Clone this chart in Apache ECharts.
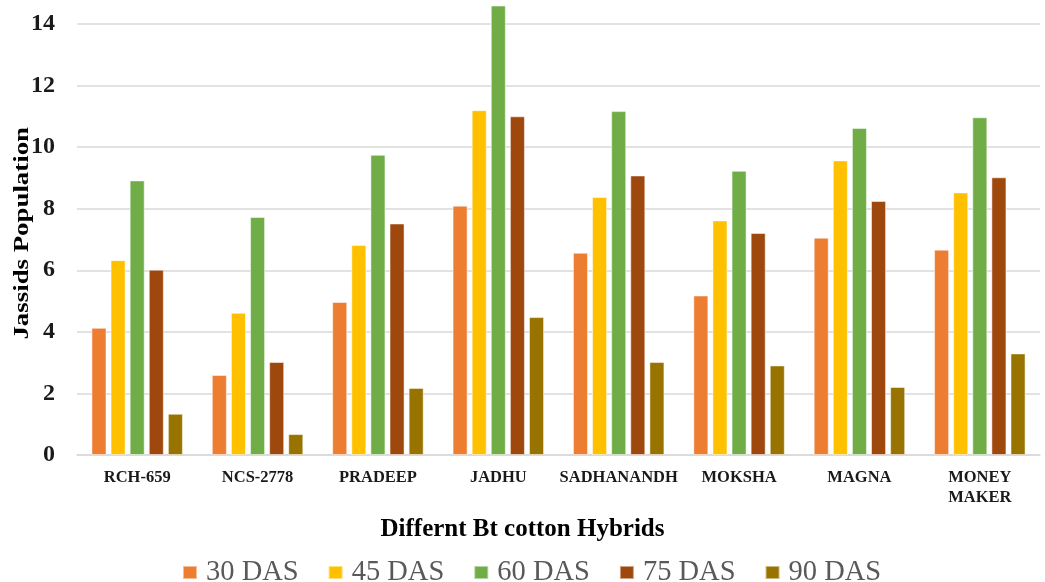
<!DOCTYPE html>
<html><head><meta charset="utf-8">
<script src="https://cdn.jsdelivr.net/npm/echarts@6/dist/echarts.min.js"></script>
<style>html,body{margin:0;padding:0;background:#fff}#c{width:1045px;height:582px}</style>
</head><body><div id="c"></div>
<script>
const categories = ['RCH-659','NCS-2778','PRADEEP','JADHU','SADHANANDH','MOKSHA','MAGNA','MONEY\nMAKER'];
const seriesNames = ['30 DAS','45 DAS','60 DAS','75 DAS','90 DAS'];
const das30 = [4.13, 2.6, 4.97, 8.1, 6.57, 5.18, 7.06, 6.67];
const das45 = [6.33, 4.62, 6.82, 11.2, 8.38, 7.62, 9.57, 8.53];
const das60 = [8.92, 7.73, 9.75, 14.6, 11.17, 9.23, 10.62, 10.97];
const das75 = [6.02, 3.02, 7.52, 11.0, 9.08, 7.21, 8.25, 9.02];
const das90 = [1.34, 0.68, 2.18, 4.48, 3.02, 2.91, 2.21, 3.3];
const colors = ['#ED7D31','#FFC000','#70AD47','#9E480E','#997300'];
const allData = [das30, das45, das60, das75, das90];
const serifName = 'Liberation Serif';
const serif = '"Liberation Serif","DejaVu Serif",serif';

const chart = echarts.init(document.getElementById('c'));
chart.setOption({
  animation: false,
  color: colors,
  grid: {left: 77, right: 5, top: 24, bottom: 127},
  legend: {
    top: 553, left: 177, itemWidth: 14, itemHeight: 13, itemGap: 29,
    icon: 'rect',
    textStyle: {fontFamily: serifName, fontSize: 28.5, color: '#595959', padding: [0,0,0,4]},
    data: seriesNames
  },
  xAxis: {
    type: 'category', data: categories,
    axisLine: {lineStyle: {color: '#d9d9d9', width: 1.5}},
    axisTick: {show: false},
    axisLabel: {fontFamily: serifName, fontWeight: 'bold', fontSize: 16.5, color: '#1a1a1a', margin: 13, lineHeight: 20, interval: 0}
  },
  yAxis: {
    type: 'value', min: 0, max: 14, interval: 2,
    axisLine: {show: false}, axisTick: {show: false},
    splitLine: {lineStyle: {color: '#d9d9d9', width: 1.5}},
    axisLabel: {fontFamily: serifName, fontWeight: 'bold', fontSize: 24, color: '#1a1a1a', margin: 22}
  },
  graphic: [
    {type: 'text', x: 11, y: 127, rotation: Math.PI/2, scaleX: 1.22,
     style: {text: 'Jassids Population', font: 'bold 22px ' + serif, fill: '#000', textAlign: 'right', textVerticalAlign: 'top'}},
    {type: 'text', left: 'center', top: 517, style: {text: 'Differnt Bt cotton Hybrids', font: 'bold 25px ' + serif, fill: '#000'}}
  ],
  series: allData.map((d, i) => ({
    name: seriesNames[i], type: 'bar', data: d, clip: false,
    barGap: '27%', barCategoryGap: '24%',
    itemStyle: {color: colors[i], borderColor: 'rgba(255,255,255,0.5)', borderWidth: 1}
  }))
});
</script></body></html>
